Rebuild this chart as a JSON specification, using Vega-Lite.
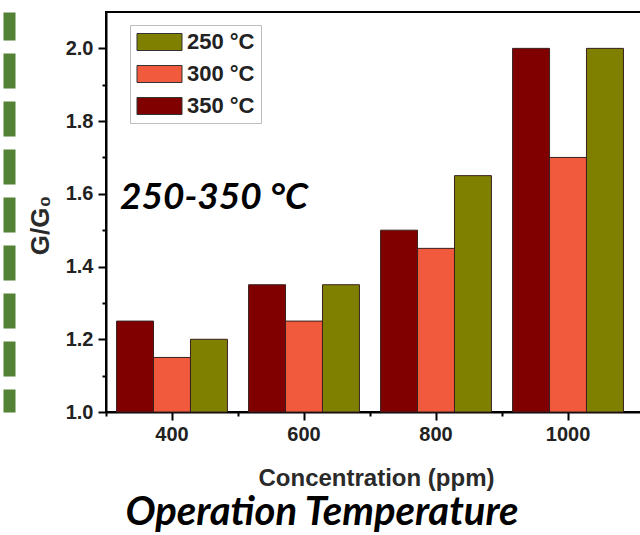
{
  "$schema": "https://vega.github.io/schema/vega-lite/v6.json",
  "width": 540,
  "height": 400,
  "autosize": {"type": "none"},
  "padding": {"left": 106, "top": 12, "right": 0, "bottom": 123},
  "background": "white",
  "config": {
    "view": {"stroke": "black", "strokeWidth": 2},
    "font": "Liberation Sans"
  },
  "title": {
    "text": "Operation Temperature",
    "orient": "bottom",
    "font": "Lato",
    "fontSize": 40,
    "fontWeight": "bold",
    "fontStyle": "italic",
    "color": "black",
    "offset": 3,
    "dx": -54
  },
  "resolve": {"axis": {"x": "independent", "y": "independent"}},
  "layer": [
    {
      "data": {
        "values": [
          {"conc": "400", "temp": "350 °C", "g": 1.25},
          {"conc": "400", "temp": "300 °C", "g": 1.15},
          {"conc": "400", "temp": "250 °C", "g": 1.2},
          {"conc": "600", "temp": "350 °C", "g": 1.35},
          {"conc": "600", "temp": "300 °C", "g": 1.25},
          {"conc": "600", "temp": "250 °C", "g": 1.35},
          {"conc": "800", "temp": "350 °C", "g": 1.5},
          {"conc": "800", "temp": "300 °C", "g": 1.45},
          {"conc": "800", "temp": "250 °C", "g": 1.65},
          {"conc": "1000", "temp": "350 °C", "g": 2.0},
          {"conc": "1000", "temp": "300 °C", "g": 1.7},
          {"conc": "1000", "temp": "250 °C", "g": 2.0}
        ]
      },
      "mark": {"type": "bar", "stroke": "#3a2020", "strokeWidth": 1},
      "encoding": {
        "x": {
          "field": "conc",
          "type": "ordinal",
          "sort": ["400", "600", "800", "1000"],
          "scale": {"paddingInner": 0.16, "paddingOuter": 0.1254, "align": 0.319},
          "axis": {
            "title": "Concentration (ppm)",
            "labelAngle": 0,
            "labelFont": "Liberation Sans",
            "labelFontSize": 20,
            "labelFontWeight": "bold",
            "labelColor": "#222222",
            "labelPadding": 4,
            "tickSize": 8,
            "tickWidth": 2,
            "tickColor": "black",
            "domainColor": "black",
            "domainWidth": 2,
            "titleFont": "Liberation Sans",
            "titleFontSize": 24,
            "titleFontWeight": "bold",
            "titleColor": "#2a2a2a",
            "titlePadding": 22
          }
        },
        "xOffset": {"field": "temp", "sort": ["350 °C", "300 °C", "250 °C"]},
        "y": {
          "field": "g",
          "type": "quantitative",
          "scale": {"domain": [1.0, 2.1], "nice": false, "zero": false},
          "axis": {
            "values": [1.0, 1.2, 1.4, 1.6, 1.8, 2.0],
            "format": ".1f",
            "title": "G/G₀",
            "grid": false,
            "labelFont": "Liberation Sans",
            "labelFontSize": 20,
            "labelFontWeight": "bold",
            "labelColor": "#222222",
            "labelPadding": 5,
            "tickSize": 8,
            "tickWidth": 2,
            "tickColor": "black",
            "domainColor": "black",
            "domainWidth": 2,
            "titleFont": "Liberation Sans",
            "titleFontSize": 26,
            "titleFontWeight": "bold",
            "titleColor": "#2a2a2a",
            "titlePadding": 12,
            "titleY": 213
          }
        },
        "y2": {"datum": 1.0},
        "color": {
          "field": "temp",
          "type": "nominal",
          "scale": {
            "domain": ["250 °C", "300 °C", "350 °C"],
            "range": ["#808000", "#F15A3C", "#800000"]
          },
          "legend": {
            "orient": "none",
            "legendX": 24,
            "legendY": 13,
            "title": null,
            "strokeColor": "#bdbdbd",
            "padding": 6,
            "symbolType": "M-1,-0.85H3.5V0.85H-1Z",
            "symbolSize": 400,
            "symbolStrokeColor": "#333333",
            "symbolStrokeWidth": 1,
            "symbolOpacity": 1,
            "labelFont": "Liberation Sans",
            "labelFontSize": 22,
            "labelFontWeight": "bold",
            "labelColor": "#222222",
            "labelOffset": 29,
            "rowPadding": 10
          }
        }
      }
    },
    {
      "data": {"values": [{"conc": "400", "g": 1.6, "label": "250-350 °C"}]},
      "mark": {
        "type": "text",
        "font": "Lato",
        "fontSize": 37,
        "fontWeight": "bold",
        "fontStyle": "italic",
        "align": "left",
        "baseline": "middle",
        "dx": -52,
        "dy": 4,
        "color": "black"
      },
      "encoding": {
        "x": {
          "field": "conc",
          "type": "ordinal",
          "sort": ["400", "600", "800", "1000"],
          "axis": {
            "orient": "bottom",
            "labels": false,
            "domain": false,
            "title": null,
            "tickSize": 4,
            "tickWidth": 2,
            "tickColor": "black",
            "bandPosition": -0.0952
          }
        },
        "y": {
          "field": "g",
          "type": "quantitative",
          "axis": {
            "orient": "left",
            "values": [1.1, 1.3, 1.5, 1.7, 1.9],
            "labels": false,
            "domain": false,
            "title": null,
            "grid": false,
            "tickSize": 4,
            "tickWidth": 2,
            "tickColor": "black"
          }
        },
        "text": {"field": "label"}
      }
    },
    {
      "data": {"values": [{"conc": "400", "g": 1.6, "label": ""}]},
      "mark": {"type": "text"},
      "encoding": {
        "x": {"field": "conc", "type": "ordinal", "sort": ["400", "600", "800", "1000"], "axis": null},
        "y": {
          "field": "g",
          "type": "quantitative",
          "axis": {
            "orient": "left",
            "offset": 97,
            "labels": false,
            "ticks": false,
            "title": null,
            "grid": false,
            "domainColor": "#538135",
            "domainWidth": 12,
            "domainDash": [35, 13],
            "domainDashOffset": 12
          }
        },
        "text": {"field": "label"}
      }
    }
  ]
}
